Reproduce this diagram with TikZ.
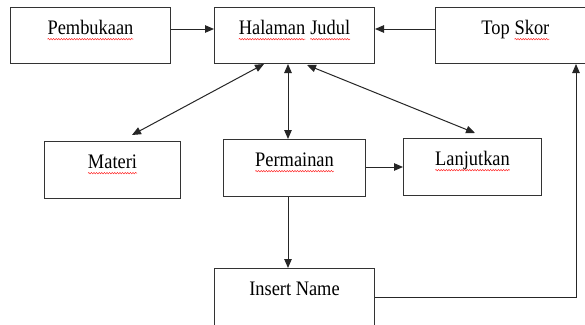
\documentclass[tikz,border=0pt]{standalone}
\usepackage{fontspec}
\usepackage{graphicx}
\setmainfont{Liberation Serif}
\usetikzlibrary{arrows.meta,calc,decorations.pathmorphing}
\newcommand\squig[1]{\tikz[baseline=(w.base)]{\node[inner sep=0pt,outer sep=0pt](w){#1};
  \draw[red!85!white,line width=0.45pt,decorate,decoration={snake,amplitude=0.65pt,segment length=2.6pt}]
   ($(w.base west)+(0,-4.6pt)$) -- ($(w.base east)+(0,-4.6pt)$);}}
\newcommand\tall[1]{\scalebox{1}[1.12]{#1}}
\tikzset{
  box/.style={draw=black!80,line width=1pt,rectangle,inner sep=0pt,anchor=north west},
  lbl/.style={anchor=base,inner sep=0pt,font=\fontsize{18.4}{20}\selectfont},
  conn/.style={draw=black!85,line width=1pt},
  tip/.style={-{Triangle[length=9pt,width=7.5pt]}},
  tips/.style={{Triangle[length=9pt,width=7.5pt]}-{Triangle[length=9pt,width=7.5pt]}}
}
\begin{document}
\begin{tikzpicture}[x=1pt,y=-1pt]
\useasboundingbox (0,0) rectangle (585,324);
\clip (0,0) rectangle (585,324);
\fill[white] (0,0) rectangle (585,324);
% boxes
\node[box,minimum width=160pt,minimum height=56pt] (pemb) at (10,7) {};
\node[box,minimum width=160pt,minimum height=56pt] (hal) at (214,7) {};
\node[box,minimum width=160pt,minimum height=56pt] (top) at (435,7) {};
\node[box,minimum width=136pt,minimum height=57pt] (mat) at (44,141) {};
\node[box,minimum width=142pt,minimum height=57pt] (perm) at (223,139) {};
\node[box,minimum width=138pt,minimum height=57pt] (lanj) at (403,138) {};
\node[box,minimum width=160pt,minimum height=62pt] (ins) at (214,268) {};
% labels
\node[lbl] (tpemb) at ($(pemb.north)+(0,27)$) {\tall{\squig{Pembukaan}}};
\node[lbl] (thal) at ($(hal.north)+(0,27)$) {\tall{\squig{Halaman} \squig{Judul}}};
\node[lbl] (ttop) at ($(top.north)+(0,27)$) {\tall{Top \squig{Skor}}};
\node[lbl] (tmat) at ($(mat.north)+(0,27)$) {\tall{\squig{Materi}}};
\node[lbl] (tperm) at ($(perm.north)+(0,27)$) {\tall{\squig{Permainan}}};
\node[lbl] (tlanj) at ($(lanj.north)+(0,27)$) {\tall{\squig{Lanjutkan}}};
\node[lbl] (tins) at ($(ins.north)+(0,27)$) {\tall{Insert Name}};
% connector points
\coordinate (a1) at ($(pemb.north east)+(0,22)$);
\coordinate (a2) at ($(hal.north west)+(0,22)$);
\coordinate (b1) at ($(top.north west)+(0,22)$);
\coordinate (b2) at ($(hal.north east)+(0,22)$);
\coordinate (c1) at ($(hal.south west)+(74,0)$);
\coordinate (c2) at ($(perm.north west)+(65,0)$);
\coordinate (d1) at ($(hal.south west)+(50,0)$);
\coordinate (d2) at ($(mat.north west)+(88,-6)$);
\coordinate (e1) at ($(hal.south west)+(93,1)$);
\coordinate (e2) at ($(lanj.north west)+(72,-5)$);
\coordinate (f1) at ($(perm.north east)+(0,28)$);
\coordinate (f2) at ($(lanj.north west)+(0,29)$);
\coordinate (g1) at ($(perm.south west)+(65,0)$);
\coordinate (g2) at ($(ins.north west)+(74,0)$);
\coordinate (h1) at ($(ins.north east)+(0,29)$);
\coordinate (h2) at ($(top.south west)+(141,0)$);
% connectors
\draw[conn,tip] (a1) -- (a2);
\draw[conn,tip] (b1) -- (b2);
\draw[conn,tips] (c1) -- (c2);
\draw[conn,tips] (d1) -- (d2);
\draw[conn,tips] (e1) -- (e2);
\draw[conn,tip] (f1) -- (f2);
\draw[conn,tip] (g1) -- (g2);
\draw[conn,tip] (h1) -| (h2);
\end{tikzpicture}
\end{document}
